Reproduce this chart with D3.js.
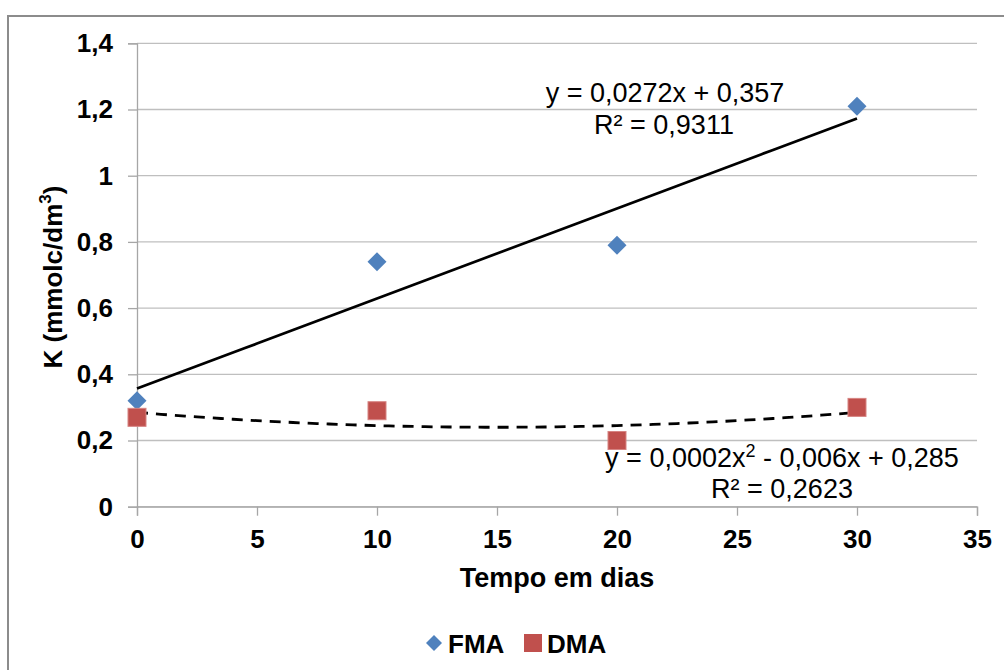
<!DOCTYPE html>
<html>
<head>
<meta charset="utf-8">
<script src="https://cdn.jsdelivr.net/npm/d3@7/dist/d3.min.js"></script>
<style>
  html, body { margin: 0; padding: 0; background: #fff; }
  svg text { font-family: "Liberation Sans", Arial, sans-serif; }
</style>
</head>
<body>
<svg id="chart" width="1004" height="670"></svg>
<script>
// Potassium content over time for two treatments
const days = [0, 10, 20, 30];
const fmaValues = [0.32, 0.74, 0.79, 1.21];
const dmaValues = [0.27, 0.29, 0.20, 0.30];
const xTicks = [0, 5, 10, 15, 20, 25, 30, 35];
const yTicks = [0, 0.2, 0.4, 0.6, 0.8, 1.0, 1.2, 1.4];

// Trendline coefficients
const fmaLinear = { a: 0.0272, b: 0.357 };
const dmaPoly = { a: 0.0002, b: -0.006, c: 0.285 };

const svg = d3.select("#chart");
const W = 1004, H = 670;

// Outer frame
svg.append("rect")
  .attr("x", 8).attr("y", 16)
  .attr("width", W + 10).attr("height", H + 10)
  .attr("fill", "none").attr("stroke", "#8c8c8c").attr("stroke-width", 2);

const plotL = 137, plotR = 977, plotT = 43.3, plotB = 506.7;
const x = d3.scaleLinear().domain([0, 35]).range([plotL, plotR]);
const y = d3.scaleLinear().domain([0, 1.4]).range([plotB, plotT]);

const fmtY = v => v === 0 ? "0" : (Math.abs(v - 1) < 1e-9 ? "1" : d3.format(".1f")(v).replace(".", ","));

// Horizontal gridlines
svg.append("g")
  .selectAll("line")
  .data(yTicks)
  .join("line")
  .attr("x1", plotL).attr("x2", plotR)
  .attr("y1", d => y(d)).attr("y2", d => y(d))
  .attr("stroke", "#bfbfbf").attr("stroke-width", 1.3);

// Y axis
const yAxis = svg.append("g")
  .attr("transform", `translate(${plotL},0)`)
  .call(d3.axisLeft(y).tickValues(yTicks).tickSize(9).tickPadding(15).tickFormat(fmtY));
yAxis.select(".domain").attr("stroke", "#a6a6a6").attr("stroke-width", 1.3);
yAxis.selectAll(".tick line").attr("stroke", "#a6a6a6").attr("stroke-width", 1.3);
yAxis.selectAll(".tick text")
  .attr("fill", "#000").attr("font-size", 26).attr("font-weight", "bold")
  .attr("font-family", "Liberation Sans, Arial, sans-serif");

// X axis
const xAxis = svg.append("g")
  .attr("transform", `translate(0,${plotB})`)
  .call(d3.axisBottom(x).tickValues(xTicks).tickSize(9).tickPadding(14).tickFormat(d3.format("d")));
xAxis.select(".domain").attr("stroke", "#a6a6a6").attr("stroke-width", 1.3);
xAxis.selectAll(".tick line").attr("stroke", "#a6a6a6").attr("stroke-width", 1.3);
xAxis.selectAll(".tick text")
  .attr("fill", "#000").attr("font-size", 26).attr("font-weight", "bold")
  .attr("font-family", "Liberation Sans, Arial, sans-serif");

// Axis titles
svg.append("text")
  .attr("x", 557).attr("y", 587)
  .attr("text-anchor", "middle")
  .attr("font-size", 27).attr("font-weight", "bold")
  .text("Tempo em dias");

const yTitle = svg.append("text")
  .attr("transform", "translate(62,277) rotate(-90)")
  .attr("text-anchor", "middle")
  .attr("font-size", 26).attr("font-weight", "bold");
yTitle.append("tspan").text("K (mmolc/dm");
yTitle.append("tspan").attr("font-size", 17).attr("dy", -11).text("3");
yTitle.append("tspan").attr("dy", 11).text(")");

// Trendlines
const trendX = d3.range(0, 30.01, 0.5);
const line = d3.line().x(d => x(d[0])).y(d => y(d[1]));

svg.append("path")
  .datum(trendX.map(t => [t, fmaLinear.a * t + fmaLinear.b]))
  .attr("d", line)
  .attr("fill", "none").attr("stroke", "#000").attr("stroke-width", 2.8);

svg.append("path")
  .datum(trendX.map(t => [t, dmaPoly.a * t * t + dmaPoly.b * t + dmaPoly.c]))
  .attr("d", line)
  .attr("fill", "none").attr("stroke", "#000").attr("stroke-width", 2.8)
  .attr("stroke-dasharray", "11,8");

// Markers
const diamond = d3.symbol().type(d3.symbolSquare).size(180);
svg.append("g")
  .selectAll("path")
  .data(days.map((d, i) => [d, fmaValues[i]]))
  .join("path")
  .attr("d", diamond)
  .attr("transform", d => `translate(${x(d[0])},${y(d[1])}) rotate(45)`)
  .attr("fill", "#4f81bd");

svg.append("g")
  .selectAll("rect")
  .data(days.map((d, i) => [d, dmaValues[i]]))
  .join("rect")
  .attr("x", d => x(d[0]) - 9).attr("y", d => y(d[1]) - 9)
  .attr("width", 18).attr("height", 18)
  .attr("fill", "#c0504d").attr("stroke", "#d68482").attr("stroke-width", 1);

// Equation labels
const eq1 = svg.append("g").attr("font-size", 27).attr("text-anchor", "middle");
eq1.append("text").attr("x", 665).attr("y", 102).text("y = 0,0272x + 0,357");
eq1.append("text").attr("x", 664).attr("y", 134).text("R² = 0,9311");

const eq2 = svg.append("g").attr("font-size", 27).attr("text-anchor", "middle");
const e2 = eq2.append("text").attr("x", 782).attr("y", 467);
e2.append("tspan").text("y = 0,0002x");
e2.append("tspan").attr("font-size", 18).attr("dy", -10).text("2");
e2.append("tspan").attr("dy", 10).text(" - 0,006x + 0,285");
eq2.append("text").attr("x", 782).attr("y", 498).text("R² = 0,2623");

// Legend
const legend = svg.append("g").attr("font-size", 26).attr("font-weight", "bold");
legend.append("path")
  .attr("d", d3.symbol().type(d3.symbolSquare).size(128))
  .attr("transform", "translate(434,643) rotate(45)")
  .attr("fill", "#4f81bd");
legend.append("text").attr("x", 448).attr("y", 653).text("FMA");
legend.append("rect")
  .attr("x", 524).attr("y", 634).attr("width", 18).attr("height", 18)
  .attr("fill", "#c0504d");
legend.append("text").attr("x", 547).attr("y", 653).text("DMA");
</script>
</body>
</html>
